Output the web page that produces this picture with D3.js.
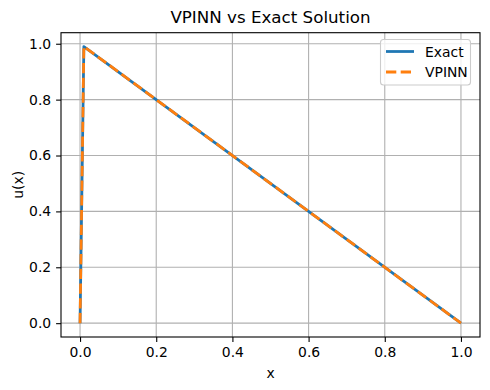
<!DOCTYPE html>
<html><head><meta charset="utf-8">
<script src="https://cdn.jsdelivr.net/npm/d3@7"></script>
<style>body{margin:0;background:#fff}svg{display:block}text{font-family:"DejaVu Sans",sans-serif;fill:#000}</style>
</head><body><svg id="c" width="490" height="390"></svg>
<script>
const xValues = [0, 0.01, 1];
const exactValues = [0, 0.99, 0];
const vpinnValues = [0, 0.99, 0];
const xTicks = [0, 0.2, 0.4, 0.6, 0.8, 1.0];
const yTicks = [0, 0.2, 0.4, 0.6, 0.8, 1.0];
const seriesNames = ["Exact", "VPINN"];

const svg = d3.select("#c");
const L = 61, R = 480, T = 32.7, B = 337;
const x = d3.scaleLinear().domain([-0.05, 1.05]).range([L, R]);
const y = d3.scaleLinear().domain([-0.0495, 1.0395]).range([B, T]);

// grid
const g = svg.append("g");
g.selectAll(".gx").data(xTicks).enter().append("line")
  .attr("x1", d => x(d)).attr("x2", d => x(d)).attr("y1", T).attr("y2", B)
  .attr("stroke", "#b0b0b0").attr("stroke-width", 1.1);
g.selectAll(".gy").data(yTicks).enter().append("line")
  .attr("y1", d => y(d)).attr("y2", d => y(d)).attr("x1", L).attr("x2", R)
  .attr("stroke", "#b0b0b0").attr("stroke-width", 1.1);

// lines
const line = d3.line().x((d, i) => x(xValues[i])).y(d => y(d));
svg.append("path").datum(exactValues).attr("d", line).attr("fill", "none")
  .attr("stroke", "#1f77b4").attr("stroke-width", 2.78).attr("stroke-linejoin", "round").attr("stroke-linecap", "butt");
svg.append("path").datum(vpinnValues).attr("d", line).attr("fill", "none")
  .attr("stroke", "#ff7f0e").attr("stroke-width", 2.78).attr("stroke-dasharray", "10.3,4.4").attr("stroke-linejoin", "round");

// axes
const xAxis = d3.axisBottom(x).tickValues(xTicks).tickFormat(d3.format(".1f")).tickSize(4.9).tickPadding(4.9);
const yAxis = d3.axisLeft(y).tickValues(yTicks).tickFormat(d3.format(".1f")).tickSize(4.9).tickPadding(4.9);
const gx = svg.append("g").attr("transform", `translate(0,${B})`).call(xAxis);
const gy = svg.append("g").attr("transform", `translate(${L},0)`).call(yAxis);
[gx, gy].forEach(a => {
  a.select(".domain").remove();
  a.selectAll("line").attr("stroke", "#000").attr("stroke-width", 1.1);
  a.selectAll("text").style("font-family", "DejaVu Sans").style("font-size", "13.9px").attr("fill", "#000");
});

// frame
svg.append("rect").attr("x", L).attr("y", T).attr("width", R - L).attr("height", B - T)
  .attr("fill", "none").attr("stroke", "#000").attr("stroke-width", 1.1);

// title and labels
svg.append("text").attr("x", (L + R) / 2).attr("y", 23).attr("text-anchor", "middle")
  .style("font-size", "16.7px").text("VPINN vs Exact Solution");
svg.append("text").attr("x", (L + R) / 2).attr("y", 378).attr("text-anchor", "middle")
  .style("font-size", "13.9px").text("x");
svg.append("text").attr("transform", `translate(23,${(T + B) / 2}) rotate(-90)`).attr("text-anchor", "middle")
  .style("font-size", "13.9px").text("u(x)");

// legend
const lg = svg.append("g");
lg.append("rect").attr("x", 380.5).attr("y", 39.5).attr("width", 90).attr("height", 45.5).attr("rx", 3)
  .attr("fill", "#fff").attr("fill-opacity", 0.8).attr("stroke", "#cccccc").attr("stroke-width", 1.1);
const colors = ["#1f77b4", "#ff7f0e"];
const dashes = [null, "10.3,4.4"];
seriesNames.forEach((n, i) => {
  const yy = 51.5 + i * 20.5;
  lg.append("line").attr("x1", 386).attr("x2", 414).attr("y1", yy).attr("y2", yy)
    .attr("stroke", colors[i]).attr("stroke-width", 2.78).attr("stroke-dasharray", dashes[i]);
  lg.append("text").attr("x", 425).attr("y", yy + 5).style("font-size", "13.9px").text(n);
});
</script></body></html>
